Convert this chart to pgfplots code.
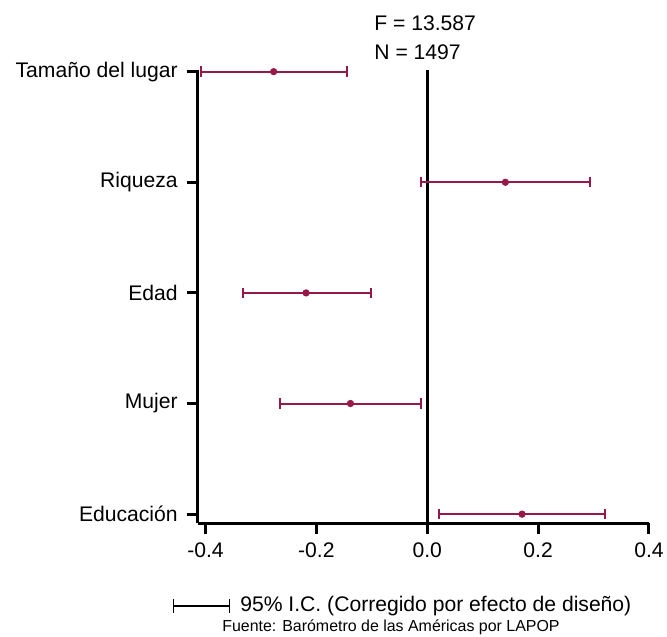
\documentclass[border=0pt]{standalone}
\usepackage{fontspec}
\setmainfont{Liberation Sans}
\usepackage{pgfplots}
\pgfplotsset{compat=1.18}
\usetikzlibrary{arrows.meta}
\definecolor{crim}{RGB}{152,24,72}
\begin{document}
\begin{tikzpicture}[font=\fontsize{10.6}{12.5}\selectfont]
\begin{axis}[
  scale only axis,
  width=225.65bp, height=226.5bp,
  xmin=-0.414, xmax=0.4,
  ymin=-0.08, ymax=4.015,
  axis lines*=left,
  axis line style={line width=1.5bp, black},
  xtick={-0.4,-0.2,0,0.2,0.4},
  ytick={0,1,2,3,4},
  yticklabels={Educación, Mujer, Edad, Riqueza, Tamaño del lugar},
  xticklabel style={/pgf/number format/fixed, /pgf/number format/fixed zerofill, /pgf/number format/precision=1, /pgf/number format/assume math mode=true, yshift=-1bp},
  tick align=outside,
  major tick length=5.5bp,
  tick style={line width=1.5bp, black},
  yticklabel style={xshift=-1bp},
  clip=false,
  ci/.style={crim, line width=1bp, mark=|, mark size=2.6bp, mark options={line width=1bp, crim}},
]
\addplot[black, line width=1.5bp, no marks] coordinates {(0,-0.08) (0,4.015)};
% confidence intervals (lower, upper)
\addplot[ci] coordinates {(-0.408,4) (-0.145,4)};
\addplot[ci] coordinates {(-0.011,3) (0.294,3)};
\addplot[ci] coordinates {(-0.333,2) (-0.102,2)};
\addplot[ci] coordinates {(-0.266,1) (-0.011,1)};
\addplot[ci] coordinates {(0.022,0) (0.321,0)};
% point estimates
\addplot[crim, only marks, mark=*, mark size=1.6bp] coordinates {
  (-0.277,4) (0.141,3) (-0.2185,2) (-0.1385,1) (0.171,0)};
\node[anchor=west, inner sep=0pt] at (rel axis cs:0.3907,1.1038) {F = 13.587};
\node[anchor=west, inner sep=0pt] at (rel axis cs:0.3907,1.0397) {N = 1497};
\draw[line width=0.7bp, {Bar[width=7bp]}-{Bar[width=7bp]}] (rel axis cs:-0.0547,-0.1832) -- (rel axis cs:0.0716,-0.1832);
\node[anchor=west, inner sep=0pt] at (rel axis cs:0.0937,-0.1832) {95\% I.C. (Corregido por efecto de diseño)};
\node[anchor=west, inner sep=0pt, font=\fontsize{8}{9.5}\selectfont] at (rel axis cs:0.0538,-0.2296) {Fuente: Barómetro de las Américas por LAPOP};
\coordinate (sw) at (rel axis cs:0,0);
\end{axis}
\pgfresetboundingbox
\path[use as bounding box] ([shift={(-98.85bp,-57bp)}]sw) rectangle ([shift={(234.65bp,261.5bp)}]sw);
\end{tikzpicture}
\end{document}
